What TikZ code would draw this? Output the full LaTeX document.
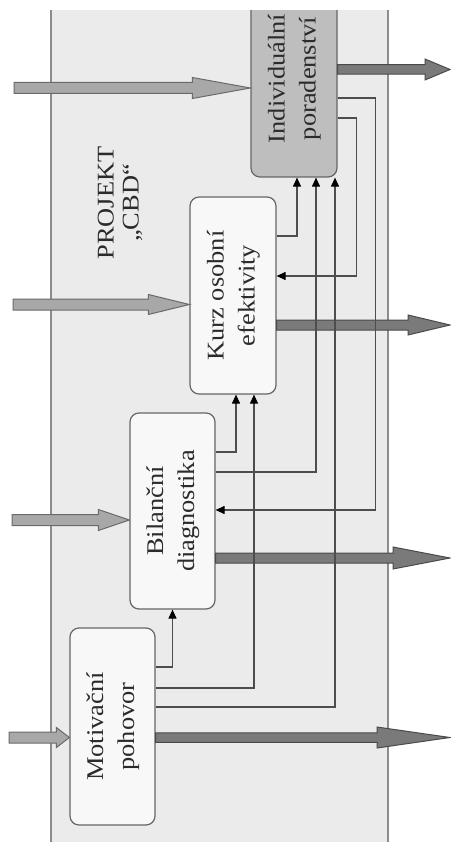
\documentclass[tikz,border=0pt]{standalone}
\usepackage{fontspec}
\setmainfont{Liberation Serif}[FakeStretch=1.1]
\usetikzlibrary{calc,arrows.meta}
\definecolor{panelfill}{HTML}{EBEBEB}
\definecolor{panelline}{HTML}{8C8C8C}
\definecolor{boxline}{HTML}{666666}
\definecolor{boxfill}{HTML}{F8F8F8}
\definecolor{indfill}{HTML}{BEBEBE}
\definecolor{inarrowfill}{HTML}{A8A8A8}
\definecolor{inarrowline}{HTML}{6A6A6A}
\definecolor{outarrowfill}{HTML}{7A7A7A}
\definecolor{outarrowline}{HTML}{4A4A4A}
\definecolor{connline}{HTML}{4D4D4D}
\definecolor{txt}{HTML}{2B2B2B}
% #1 style, #2 start point, #3 tip point, #4 head length, #5 half shaft, #6 half head
\newcommand\fatarr[6]{%
  \path[#1] let \p1=(#2), \p2=(#3) in
    (\x1,\y1+#5) -- (\x2-#4,\y1+#5) -- (\x2-#4,\y1+#6) -- (\x2,\y1)
    -- (\x2-#4,\y1-#6) -- (\x2-#4,\y1-#5) -- (\x1,\y1-#5) -- cycle;}
\newcommand\boxtext[2]{\rotatebox{90}{\fontsize{24}{31}\selectfont\begin{tabular}{@{}c@{}}#1\\#2\end{tabular}}}
\begin{document}
\begin{tikzpicture}[x=1pt,y=-1pt,
  stagebox/.style={draw=boxline, line width=1.2pt, fill=boxfill, rounded corners=9pt,
    minimum width=85pt, minimum height=197pt, inner sep=0pt, text=txt},
  conn/.style={draw=connline, line width=1.1pt, -{Triangle[length=9pt,width=8pt,color=black]}},
  inarr/.style={draw=inarrowline, fill=inarrowfill, line width=1pt},
  outarr/.style={draw=outarrowline, fill=outarrowfill, line width=1pt}]
\useasboundingbox (0,0) rectangle (450,842);
\begin{scope}
  \clip (0,11) rectangle (450,842);
  \fill[panelfill] (51,0) rectangle (388,850);
  \draw[panelline, line width=1.2pt] (51,0) -- (51,850) (388,0) -- (388,850);
  \node[stagebox, minimum width=86pt, fill=indfill] (ind) at (294,78.5) {\boxtext{Individuální}{poradenství}};
\end{scope}
\node[stagebox] (mot) at (112.5,726.5) {\boxtext{Motivační}{pohovor}};
\node[stagebox, minimum height=196pt] (bil) at (172.5,511) {\boxtext{Bilanční}{diagnostika}};
\node[stagebox, minimum width=86pt] (kurz) at (233,295.5) {\boxtext{Kurz osobní}{efektivity}};
\node[text=txt, rotate=90, align=center, font=\fontsize{24}{25}\selectfont] (proj) at (120,203) {PROJEKT\\„CBD“};
% input arrows
\coordinate (i4) at (14,88);
\coordinate (i3) at (13,304.5);
\coordinate (i2) at (12,520);
\coordinate (i1) at (9,737.5);
\fatarr{inarr}{i4}{ind.west |- i4}{58pt}{5.5pt}{10.5pt}
\fatarr{inarr}{i3}{kurz.west |- i3}{41pt}{5.5pt}{10pt}
\fatarr{inarr}{i2}{bil.west |- i2}{31pt}{5.5pt}{10.5pt}
\fatarr{inarr}{i1}{mot.west |- i1}{13pt}{5.5pt}{10pt}
% output arrows
\coordinate (o4) at (450,69.5);
\coordinate (o3) at (450,325);
\coordinate (o2) at (450,558);
\coordinate (o1) at (450,737.5);
\fatarr{outarr}{ind.east |- o4}{o4}{25pt}{4.75pt}{10.5pt}
\fatarr{outarr}{kurz.east |- o3}{o3}{42pt}{5pt}{10pt}
\fatarr{outarr}{bil.east |- o2}{o2}{57pt}{5pt}{11pt}
\fatarr{outarr}{mot.east |- o1}{o1}{73pt}{4.75pt}{10.5pt}
% thin connectors
\draw[conn] (mot.east |- 0,667) -| (bil.south);
\draw[conn] (mot.east |- 0,688) -| ([xshift=21pt]kurz.south);
\draw[conn] (mot.east |- 0,707) -| ([xshift=41pt]ind.south);
\draw[conn] (bil.east |- 0,452) -| ([xshift=3pt]kurz.south);
\draw[conn] (bil.east |- 0,472) -| ([xshift=22pt]ind.south);
\draw[conn] (kurz.east |- 0,236) -| ([xshift=3pt]ind.south);
\draw[conn] (ind.east |- 0,118) -- ++(19,0) |- (kurz.east |- 0,276);
\draw[conn] (ind.east |- 0,98) -- ++(38,0) |- (bil.east |- 0,510);
\end{tikzpicture}
\end{document}
